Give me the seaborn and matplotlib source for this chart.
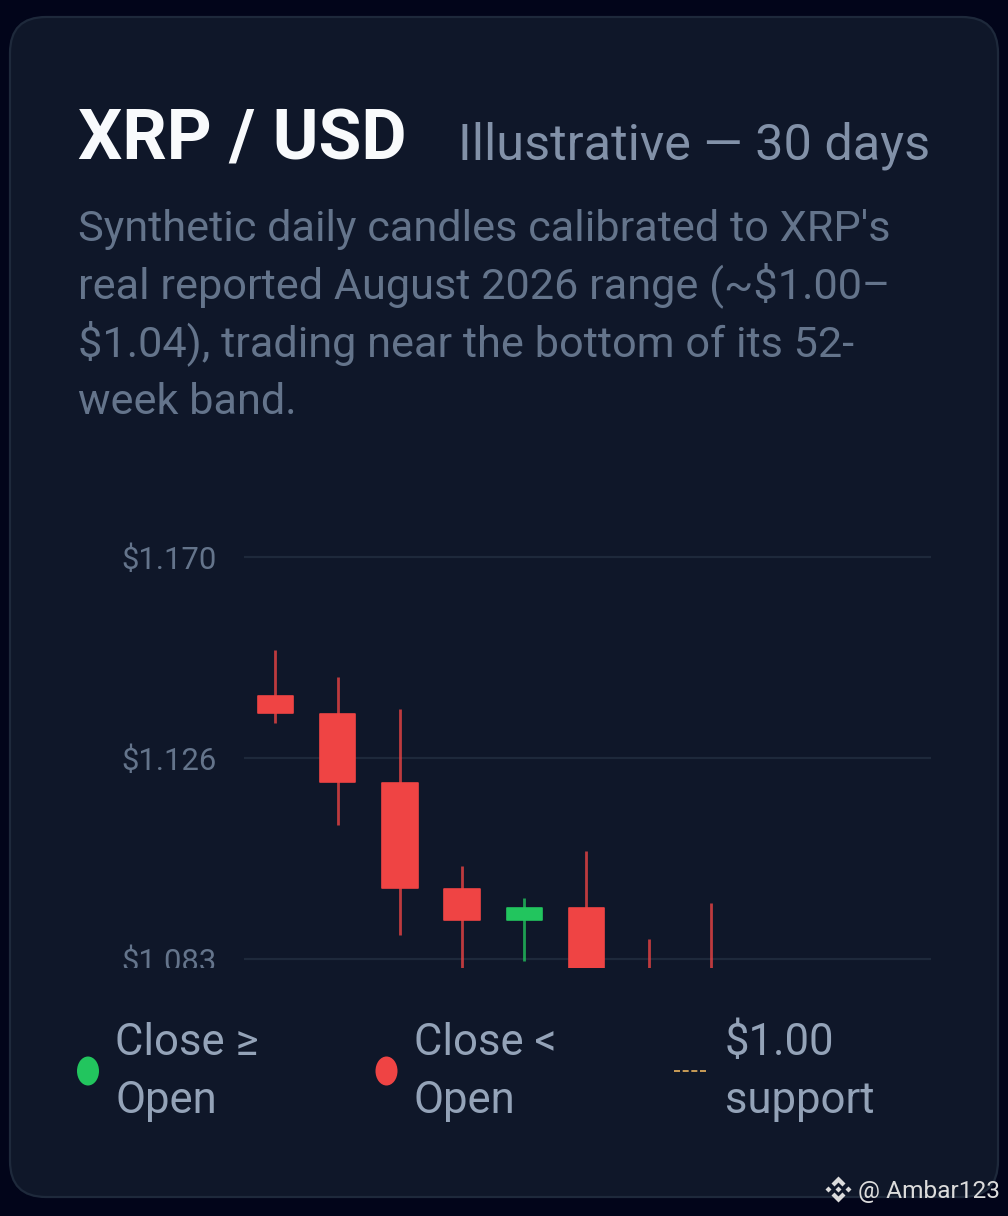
"""
XRP / USD candle card.
"""
import matplotlib
matplotlib.use('Agg')
import matplotlib.pyplot as plt
import numpy as np
import seaborn as sns
from matplotlib.patches import Ellipse, FancyBboxPatch, Polygon
from matplotlib.transforms import Bbox

# Candle values (the lows under the crop are guesses)
days = [0, 1, 2, 3, 4, 5, 6, 7]
opens = [1.1399, 1.1360, 1.1211, 1.0982, 1.0914, 1.0941, 1.0700, 1.0600]
closes = [1.1362, 1.1213, 1.0984, 1.0914, 1.0941, 1.0650, 1.0600, 1.0520]
highs = [1.1500, 1.1441, 1.1372, 1.1032, 1.0963, 1.1063, 1.0874, 1.0952]
lows = [1.1342, 1.1121, 1.0883, 1.0700, 1.0825, 1.0550, 1.0500, 1.0450]

tick_values = [1.170, 1.1265, 1.083]
tick_labels = ['$1.170', '$1.126', '$1.083']
support_level = 1.00

title = 'XRP / USD'
subtitle = 'Illustrative — 30 days'
description = [
    "Synthetic daily candles calibrated to XRP's",
    'real reported August 2026 range (~$1.00–',
    '$1.04), trading near the bottom of its 52-',
    'week band.',
]

OUTER_BG = '#02051a'
CARD_BG = '#0f1729'
CARD_EDGE = '#1e293b'
GREEN = '#22c55e'
RED = '#ef4444'
AMBER = '#f59e0b'
MUTED = '#64748b'
SOFT = '#94a3b8'

W, H = 1008, 1216

sns.set_theme(style='dark')
plt.rcParams['font.family'] = ['Roboto', 'DejaVu Sans']

fig = plt.figure(figsize=(W / 100, H / 100), dpi=100, facecolor=OUTER_BG)

# Overlay in pixel coordinates for the card, the texts and the legend
bg = fig.add_axes([0, 0, 1, 1], zorder=0)
bg.set_xlim(0, W)
bg.set_ylim(H, 0)
bg.axis('off')
bg.add_patch(FancyBboxPatch((10 + 36, 17 + 36), 988 - 72, 1180 - 72,
                            boxstyle='round,pad=36,rounding_size=36',
                            facecolor=CARD_BG, edgecolor=CARD_EDGE, linewidth=1.6))

px = 0.72  # points per pixel at dpi 100
bg.text(78, 159, title, color='#f8fafc', fontsize=69.8 * px, fontweight='bold')
bg.text(458, 159, subtitle, color='#8291a8', fontsize=50.4 * px)
for i, line in enumerate(description):
    bg.text(78, 240.5 + i * 58, line, color=MUTED, fontsize=43.3 * px)

# Chart
ax = fig.add_axes([244 / W, 1 - 968 / H, (931 - 244) / W, (968 - 540) / H], zorder=1)
ax.patch.set_alpha(0)

opens_a, closes_a = np.array(opens), np.array(closes)
days_a = np.array(days)
up = closes_a >= opens_a

for mask, colour in [(up, GREEN), (~up, RED)]:
    sns.barplot(x=days_a[mask], y=np.abs(closes_a - opens_a)[mask],
                bottom=np.minimum(opens_a, closes_a)[mask], native_scale=True,
                width=0.57, color=colour, saturation=1, errorbar=None, ax=ax,
                edgecolor=colour, linewidth=1.2, joinstyle='round', zorder=3)
    ax.vlines(days_a[mask], np.array(lows)[mask], np.array(highs)[mask],
              color=colour, linewidth=2.0, alpha=0.78, zorder=4)

ax.axhline(support_level, color=AMBER, linestyle='--', linewidth=1)

ax.set_xlim(-0.506, 10.54)
ax.set_ylim(1.08105, 1.17379)
ax.set_yticks(tick_values)
ax.set_yticklabels(tick_labels, color=MUTED, fontsize=31 * px)
ax.set_xticks([])
ax.set_xlabel('')
ax.set_ylabel('')
ax.tick_params(axis='y', length=0, pad=20)
ax.grid(axis='y', color=CARD_EDGE, linewidth=1.6, zorder=1)
ax.set_axisbelow(True)
sns.despine(ax=ax, left=True, bottom=True)

# The bottom tick label is cut at the same height as the candles
clip = Bbox([[0, H - 968], [W, H]])
for label in ax.get_yticklabels():
    label.set_clip_box(clip)
    label.set_clip_on(True)

# Legend
for centre, colour in [(88, GREEN), (386.5, RED)]:
    bg.add_patch(Ellipse((centre, 1071), 22, 29, facecolor=colour, edgecolor='none'))
bg.plot([674, 708], [1070.5, 1070.5], color='#e8b25e', linewidth=1.2,
        linestyle=(0, (3.6, 1.6)))

legend_items = [(115, 'Close ≥', 'Open'), (414, 'Close <', 'Open'), (725, '$1.00', 'support')]
for x, first, second in legend_items:
    bg.text(x, 1055, first, color=SOFT, fontsize=43.6 * px)
    bg.text(x, 1113, second, color=SOFT, fontsize=43.6 * px)

# Watermark
mark = '#dcdcdc'
cx, cy = 838.5, 1189.5
for poly in [
    [(0, -13), (7, -6), (4, -3), (0, -7), (-4, -3), (-7, -6)],
    [(0, 13), (7, 6), (4, 3), (0, 7), (-4, 3), (-7, 6)],
    [(0, -3), (3, 0), (0, 3), (-3, 0)],
    [(-13, 0), (-10, -3), (-7, 0), (-10, 3)],
    [(13, 0), (10, -3), (7, 0), (10, 3)],
]:
    bg.add_patch(Polygon([(cx + a, cy + b) for a, b in poly], facecolor=mark, edgecolor='none', zorder=5))
bg.text(858, 1198, '@ Ambar123', color=mark, fontsize=24.5 * px, zorder=5)

fig.savefig('out.png', dpi=100, facecolor=OUTER_BG)
plt.close(fig)
